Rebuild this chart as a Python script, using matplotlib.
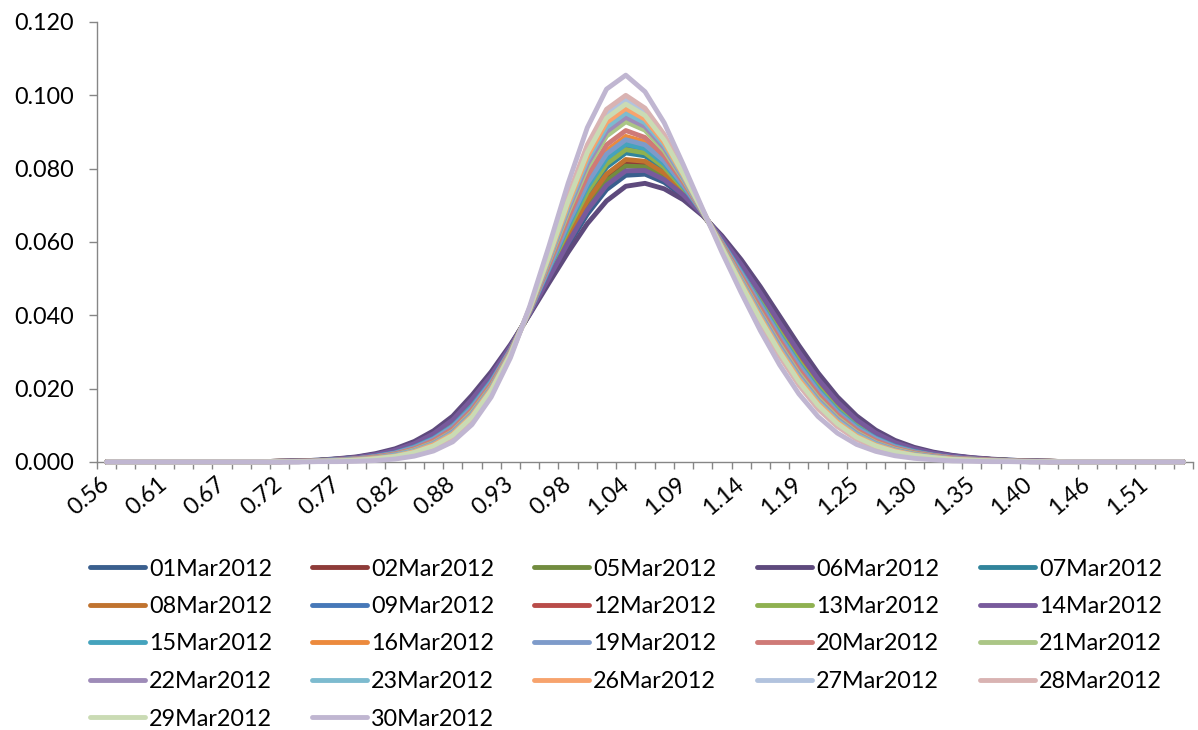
import matplotlib
matplotlib.use("Agg")
import matplotlib.pyplot as plt
from matplotlib.lines import Line2D
from matplotlib.ticker import FixedLocator, FixedFormatter, NullFormatter

plt.rcParams['font.family'] = ['Lato', 'DejaVu Sans']

# Moneyness grid (category axis)
moneyness = [0.5600, 0.5776, 0.5952, 0.6128, 0.6304, 0.6480, 0.6656, 0.6832, 0.7008, 0.7184,
             0.7360, 0.7536, 0.7712, 0.7888, 0.8064, 0.8240, 0.8416, 0.8592, 0.8768, 0.8944,
             0.9120, 0.9296, 0.9472, 0.9648, 0.9824, 1.0000, 1.0176, 1.0352, 1.0528, 1.0704,
             1.0880, 1.1056, 1.1232, 1.1408, 1.1584, 1.1760, 1.1936, 1.2112, 1.2288, 1.2464,
             1.2640, 1.2816, 1.2992, 1.3168, 1.3344, 1.3520, 1.3696, 1.3872, 1.4048, 1.4224,
             1.4400, 1.4576, 1.4752, 1.4928, 1.5104, 1.5280, 1.5456]

dates = ["01Mar2012", "02Mar2012", "05Mar2012", "06Mar2012", "07Mar2012",
         "08Mar2012", "09Mar2012", "12Mar2012", "13Mar2012", "14Mar2012",
         "15Mar2012", "16Mar2012", "19Mar2012", "20Mar2012", "21Mar2012",
         "22Mar2012", "23Mar2012", "26Mar2012", "27Mar2012", "28Mar2012",
         "29Mar2012", "30Mar2012"]

# Implied densities, one list per observation date
d_01mar = [0, 0, 0, 0, 0, 0, 0,
           0.0001, 0.0001, 0.0002, 0.0003, 0.0005, 0.0008, 0.0013, 0.0021, 0.0033, 0.0052,
           0.0080, 0.0118, 0.0174, 0.0239, 0.0316, 0.0404, 0.0498, 0.0591, 0.0676, 0.0743,
           0.0782, 0.0785, 0.0763, 0.0724, 0.0674, 0.0613, 0.0543, 0.0466, 0.0385, 0.0305,
           0.0231, 0.0168, 0.0118, 0.0081, 0.0055, 0.0037, 0.0025, 0.0017, 0.0011, 0.0007,
           0.0005, 0.0003, 0.0002, 0.0001, 0.0001, 0, 0, 0, 0, 0]
d_02mar = [0, 0, 0, 0, 0, 0, 0,
           0.0001, 0.0001, 0.0002, 0.0002, 0.0004, 0.0007, 0.0011, 0.0019, 0.0030, 0.0048,
           0.0073, 0.0110, 0.0165, 0.0232, 0.0312, 0.0407, 0.0509, 0.0611, 0.0705, 0.0776,
           0.0816, 0.0813, 0.0783, 0.0735, 0.0676, 0.0608, 0.0533, 0.0453, 0.0370, 0.0290,
           0.0218, 0.0157, 0.0110, 0.0075, 0.0050, 0.0034, 0.0023, 0.0015, 0.0010, 0.0007,
           0.0004, 0.0002, 0.0002, 0.0001, 0.0001, 0, 0, 0, 0, 0]
d_05mar = [0, 0, 0, 0, 0, 0, 0,
           0.0001, 0.0001, 0.0002, 0.0002, 0.0004, 0.0008, 0.0012, 0.0020, 0.0031, 0.0049,
           0.0075, 0.0112, 0.0168, 0.0234, 0.0314, 0.0406, 0.0506, 0.0606, 0.0697, 0.0767,
           0.0807, 0.0805, 0.0777, 0.0732, 0.0675, 0.0609, 0.0536, 0.0456, 0.0374, 0.0294,
           0.0222, 0.0160, 0.0112, 0.0077, 0.0051, 0.0035, 0.0023, 0.0015, 0.0010, 0.0007,
           0.0004, 0.0002, 0.0002, 0.0001, 0.0001, 0, 0, 0, 0, 0]
d_06mar = [0, 0, 0, 0, 0, 0, 0,
           0.0001, 0.0001, 0.0002, 0.0003, 0.0005, 0.0009, 0.0014, 0.0023, 0.0036, 0.0056,
           0.0085, 0.0125, 0.0182, 0.0246, 0.0320, 0.0402, 0.0488, 0.0572, 0.0650, 0.0712,
           0.0752, 0.0760, 0.0745, 0.0715, 0.0672, 0.0617, 0.0552, 0.0478, 0.0398, 0.0318,
           0.0243, 0.0178, 0.0126, 0.0087, 0.0059, 0.0040, 0.0027, 0.0018, 0.0012, 0.0008,
           0.0005, 0.0003, 0.0002, 0.0001, 0.0001, 0, 0, 0, 0, 0]
d_07mar = [0, 0, 0, 0, 0, 0, 0,
           0.0001, 0.0001, 0.0001, 0.0002, 0.0004, 0.0007, 0.0010, 0.0017, 0.0028, 0.0044,
           0.0069, 0.0104, 0.0158, 0.0225, 0.0309, 0.0409, 0.0518, 0.0628, 0.0729, 0.0804,
           0.0843, 0.0835, 0.0799, 0.0744, 0.0677, 0.0604, 0.0525, 0.0442, 0.0358, 0.0278,
           0.0207, 0.0148, 0.0103, 0.0070, 0.0046, 0.0031, 0.0021, 0.0014, 0.0009, 0.0006,
           0.0004, 0.0002, 0.0001, 0.0001, 0.0001, 0, 0, 0, 0, 0]
d_08mar = [0, 0, 0, 0, 0, 0, 0,
           0.0001, 0.0001, 0.0002, 0.0002, 0.0004, 0.0007, 0.0011, 0.0018, 0.0029, 0.0046,
           0.0072, 0.0108, 0.0163, 0.0229, 0.0311, 0.0407, 0.0512, 0.0617, 0.0713, 0.0785,
           0.0825, 0.0820, 0.0788, 0.0738, 0.0676, 0.0606, 0.0530, 0.0449, 0.0366, 0.0286,
           0.0214, 0.0154, 0.0107, 0.0073, 0.0049, 0.0033, 0.0022, 0.0014, 0.0010, 0.0006,
           0.0004, 0.0002, 0.0002, 0.0001, 0.0001, 0, 0, 0, 0, 0]
d_09mar = [0, 0, 0, 0, 0, 0, 0,
           0.0001, 0.0001, 0.0001, 0.0002, 0.0004, 0.0006, 0.0010, 0.0016, 0.0026, 0.0042,
           0.0065, 0.0100, 0.0153, 0.0221, 0.0307, 0.0410, 0.0524, 0.0640, 0.0744, 0.0822,
           0.0861, 0.0850, 0.0810, 0.0749, 0.0679, 0.0601, 0.0520, 0.0435, 0.0350, 0.0271,
           0.0200, 0.0142, 0.0098, 0.0066, 0.0044, 0.0029, 0.0019, 0.0013, 0.0008, 0.0005,
           0.0004, 0.0002, 0.0001, 0.0001, 0.0001, 0, 0, 0, 0, 0]
d_12mar = [0, 0, 0, 0, 0, 0, 0,
           0.0001, 0.0001, 0.0001, 0.0002, 0.0003, 0.0006, 0.0009, 0.0015, 0.0025, 0.0040,
           0.0063, 0.0097, 0.0150, 0.0218, 0.0306, 0.0411, 0.0528, 0.0647, 0.0755, 0.0834,
           0.0873, 0.0860, 0.0817, 0.0753, 0.0679, 0.0599, 0.0516, 0.0430, 0.0345, 0.0265,
           0.0195, 0.0138, 0.0095, 0.0064, 0.0042, 0.0028, 0.0019, 0.0012, 0.0008, 0.0005,
           0.0003, 0.0002, 0.0001, 0.0001, 0.0001, 0, 0, 0, 0, 0]
d_13mar = [0, 0, 0, 0, 0, 0, 0,
           0.0001, 0.0001, 0.0001, 0.0002, 0.0004, 0.0006, 0.0010, 0.0017, 0.0027, 0.0043,
           0.0067, 0.0102, 0.0156, 0.0223, 0.0308, 0.0409, 0.0521, 0.0634, 0.0736, 0.0813,
           0.0852, 0.0843, 0.0804, 0.0746, 0.0678, 0.0602, 0.0522, 0.0438, 0.0354, 0.0274,
           0.0204, 0.0145, 0.0100, 0.0068, 0.0045, 0.0030, 0.0020, 0.0013, 0.0009, 0.0006,
           0.0004, 0.0002, 0.0001, 0.0001, 0.0001, 0, 0, 0, 0, 0]
d_14mar = [0, 0, 0, 0, 0, 0, 0,
           0.0001, 0.0001, 0.0002, 0.0003, 0.0004, 0.0008, 0.0012, 0.0020, 0.0032, 0.0050,
           0.0077, 0.0115, 0.0171, 0.0236, 0.0315, 0.0405, 0.0502, 0.0598, 0.0687, 0.0755,
           0.0794, 0.0795, 0.0770, 0.0728, 0.0675, 0.0611, 0.0539, 0.0461, 0.0379, 0.0300,
           0.0226, 0.0164, 0.0115, 0.0079, 0.0053, 0.0036, 0.0024, 0.0016, 0.0011, 0.0007,
           0.0004, 0.0003, 0.0002, 0.0001, 0.0001, 0, 0, 0, 0, 0]
d_15mar = [0, 0, 0, 0, 0, 0, 0,
           0.0001, 0.0001, 0.0001, 0.0002, 0.0003, 0.0006, 0.0009, 0.0016, 0.0025, 0.0041,
           0.0064, 0.0098, 0.0152, 0.0220, 0.0306, 0.0410, 0.0526, 0.0643, 0.0750, 0.0828,
           0.0867, 0.0855, 0.0813, 0.0751, 0.0679, 0.0600, 0.0518, 0.0432, 0.0347, 0.0268,
           0.0198, 0.0140, 0.0096, 0.0065, 0.0043, 0.0029, 0.0019, 0.0012, 0.0008, 0.0005,
           0.0003, 0.0002, 0.0001, 0.0001, 0.0001, 0, 0, 0, 0, 0]
d_16mar = [0, 0, 0, 0, 0, 0, 0,
           0.0001, 0.0001, 0.0001, 0.0002, 0.0003, 0.0005, 0.0009, 0.0014, 0.0023, 0.0038,
           0.0060, 0.0094, 0.0146, 0.0215, 0.0304, 0.0412, 0.0533, 0.0657, 0.0768, 0.0849,
           0.0888, 0.0873, 0.0826, 0.0758, 0.0680, 0.0597, 0.0512, 0.0424, 0.0338, 0.0259,
           0.0189, 0.0133, 0.0091, 0.0061, 0.0040, 0.0027, 0.0018, 0.0011, 0.0008, 0.0005,
           0.0003, 0.0002, 0.0001, 0.0001, 0.0001, 0, 0, 0, 0, 0]
d_19mar = [0, 0, 0, 0, 0, 0, 0,
           0.0001, 0.0001, 0.0001, 0.0002, 0.0003, 0.0006, 0.0009, 0.0015, 0.0024, 0.0039,
           0.0062, 0.0096, 0.0148, 0.0217, 0.0305, 0.0411, 0.0530, 0.0651, 0.0760, 0.0840,
           0.0879, 0.0865, 0.0821, 0.0755, 0.0680, 0.0598, 0.0514, 0.0428, 0.0342, 0.0263,
           0.0193, 0.0136, 0.0093, 0.0063, 0.0041, 0.0027, 0.0018, 0.0012, 0.0008, 0.0005,
           0.0003, 0.0002, 0.0001, 0.0001, 0.0001, 0, 0, 0, 0, 0]
d_20mar = [0, 0, 0, 0, 0, 0, 0,
           0.0001, 0.0001, 0.0001, 0.0002, 0.0003, 0.0005, 0.0008, 0.0014, 0.0022, 0.0036,
           0.0058, 0.0090, 0.0142, 0.0212, 0.0302, 0.0413, 0.0538, 0.0666, 0.0781, 0.0865,
           0.0904, 0.0885, 0.0835, 0.0763, 0.0681, 0.0595, 0.0507, 0.0418, 0.0332, 0.0252,
           0.0184, 0.0129, 0.0087, 0.0058, 0.0038, 0.0025, 0.0017, 0.0011, 0.0007, 0.0005,
           0.0003, 0.0002, 0.0001, 0.0001, 0.0001, 0, 0, 0, 0, 0]
d_21mar = [0, 0, 0, 0, 0, 0, 0,
           0, 0, 0.0001, 0.0001, 0.0003, 0.0004, 0.0007, 0.0012, 0.0020, 0.0033,
           0.0053, 0.0084, 0.0136, 0.0206, 0.0299, 0.0415, 0.0546, 0.0681, 0.0802, 0.0889,
           0.0928, 0.0905, 0.0849, 0.0770, 0.0682, 0.0591, 0.0500, 0.0408, 0.0321, 0.0241,
           0.0174, 0.0121, 0.0081, 0.0053, 0.0035, 0.0023, 0.0015, 0.0009, 0.0006, 0.0004,
           0.0003, 0.0001, 0.0001, 0.0001, 0, 0, 0, 0, 0, 0]
d_22mar = [0, 0, 0, 0, 0, 0, 0,
           0, 0, 0.0001, 0.0001, 0.0003, 0.0004, 0.0007, 0.0011, 0.0019, 0.0031,
           0.0051, 0.0082, 0.0132, 0.0203, 0.0298, 0.0416, 0.0550, 0.0689, 0.0812, 0.0901,
           0.0940, 0.0915, 0.0857, 0.0774, 0.0683, 0.0589, 0.0496, 0.0404, 0.0316, 0.0236,
           0.0169, 0.0117, 0.0078, 0.0051, 0.0033, 0.0021, 0.0014, 0.0009, 0.0006, 0.0004,
           0.0003, 0.0001, 0.0001, 0.0001, 0, 0, 0, 0, 0, 0]
d_23mar = [0, 0, 0, 0, 0, 0, 0,
           0, 0, 0.0001, 0.0001, 0.0002, 0.0004, 0.0006, 0.0010, 0.0018, 0.0030,
           0.0049, 0.0079, 0.0129, 0.0200, 0.0296, 0.0417, 0.0554, 0.0696, 0.0823, 0.0913,
           0.0952, 0.0925, 0.0864, 0.0778, 0.0684, 0.0587, 0.0493, 0.0399, 0.0310, 0.0231,
           0.0165, 0.0113, 0.0075, 0.0049, 0.0031, 0.0020, 0.0013, 0.0008, 0.0005, 0.0003,
           0.0002, 0.0001, 0.0001, 0, 0, 0, 0, 0, 0, 0]
d_26mar = [0, 0, 0, 0, 0, 0, 0,
           0, 0, 0.0001, 0.0001, 0.0002, 0.0003, 0.0006, 0.0010, 0.0016, 0.0028,
           0.0047, 0.0076, 0.0126, 0.0198, 0.0295, 0.0417, 0.0558, 0.0704, 0.0833, 0.0926,
           0.0964, 0.0935, 0.0871, 0.0782, 0.0685, 0.0586, 0.0489, 0.0394, 0.0305, 0.0226,
           0.0160, 0.0109, 0.0071, 0.0046, 0.0030, 0.0019, 0.0012, 0.0008, 0.0005, 0.0003,
           0.0002, 0.0001, 0.0001, 0, 0, 0, 0, 0, 0, 0]
d_27mar = [0, 0, 0, 0, 0, 0, 0,
           0, 0, 0, 0.0001, 0.0002, 0.0003, 0.0005, 0.0008, 0.0014, 0.0025,
           0.0042, 0.0070, 0.0120, 0.0192, 0.0292, 0.0419, 0.0566, 0.0719, 0.0854, 0.0950,
           0.0988, 0.0955, 0.0885, 0.0789, 0.0686, 0.0582, 0.0482, 0.0384, 0.0294, 0.0215,
           0.0150, 0.0101, 0.0065, 0.0042, 0.0026, 0.0017, 0.0011, 0.0006, 0.0004, 0.0003,
           0.0002, 0.0001, 0, 0, 0, 0, 0, 0, 0, 0]
d_28mar = [0, 0, 0, 0, 0, 0, 0,
           0, 0, 0, 0.0001, 0.0002, 0.0002, 0.0004, 0.0007, 0.0013, 0.0023,
           0.0040, 0.0068, 0.0116, 0.0189, 0.0290, 0.0420, 0.0570, 0.0726, 0.0865, 0.0962,
           0.1000, 0.0965, 0.0893, 0.0793, 0.0687, 0.0580, 0.0478, 0.0380, 0.0289, 0.0210,
           0.0145, 0.0097, 0.0062, 0.0039, 0.0025, 0.0015, 0.0010, 0.0006, 0.0004, 0.0002,
           0.0002, 0.0001, 0, 0, 0, 0, 0, 0, 0, 0]
d_29mar = [0, 0, 0, 0, 0, 0, 0,
           0, 0, 0.0001, 0.0001, 0.0002, 0.0003, 0.0005, 0.0009, 0.0015, 0.0026,
           0.0044, 0.0073, 0.0123, 0.0195, 0.0293, 0.0418, 0.0562, 0.0711, 0.0844, 0.0938,
           0.0976, 0.0945, 0.0878, 0.0785, 0.0685, 0.0584, 0.0485, 0.0389, 0.0300, 0.0220,
           0.0155, 0.0105, 0.0068, 0.0044, 0.0028, 0.0018, 0.0012, 0.0007, 0.0005, 0.0003,
           0.0002, 0.0001, 0.0001, 0, 0, 0, 0, 0, 0, 0]
d_30mar = [0, 0, 0, 0, 0, 0, 0,
           0, 0, 0, 0, 0.0001, 0.0001, 0.0002, 0.0004, 0.0008, 0.0016,
           0.0030, 0.0055, 0.0102, 0.0177, 0.0284, 0.0424, 0.0588, 0.0760, 0.0912, 0.1017,
           0.1055, 0.1010, 0.0925, 0.0810, 0.0690, 0.0572, 0.0462, 0.0358, 0.0265, 0.0186,
           0.0124, 0.0079, 0.0048, 0.0029, 0.0017, 0.0010, 0.0006, 0.0003, 0.0002, 0.0001,
           0.0001, 0, 0, 0, 0, 0, 0, 0, 0, 0]

series = [d_01mar, d_02mar, d_05mar, d_06mar, d_07mar, d_08mar, d_09mar, d_12mar,
          d_13mar, d_14mar, d_15mar, d_16mar, d_19mar, d_20mar, d_21mar, d_22mar,
          d_23mar, d_26mar, d_27mar, d_28mar, d_29mar, d_30mar]

line_colors = ["#3A5F8E", "#8E3B39", "#728C3F", "#5E4A7D", "#31849B",
               "#C0732F", "#4678B8", "#B94C49", "#8FB150", "#785A9C",
               "#45A3BD", "#EC8A3D", "#7E9BCA", "#CF7A77", "#ABC686",
               "#9E8BB8", "#7DBBCF", "#F7A36D", "#B2C3DE", "#D9B3B2",
               "#CADBB4", "#C0B6D1"]

y_ticks = [0.0, 0.02, 0.04, 0.06, 0.08, 0.10, 0.12]

AXIS_GREY = "#868686"
FS = 16.8

W, H = 1198, 730
fig = plt.figure(figsize=(W / 100, H / 100), dpi=100)
ax = fig.add_axes([97 / W, 1 - 462 / H, 1096 / W, 440 / H])

pos = list(range(len(moneyness)))
for vals, col, lab in zip(series, line_colors, dates):
    ax.plot(pos, vals, color=col, lw=3.5, solid_capstyle="round",
            solid_joinstyle="round", label=lab, clip_on=False, zorder=3)

ax.set_xlim(-0.5, len(moneyness) - 0.5)
ax.set_ylim(0, 0.12)

for side in ("top", "right"):
    ax.spines[side].set_visible(False)
for side in ("left", "bottom"):
    ax.spines[side].set_color(AXIS_GREY)
    ax.spines[side].set_linewidth(1.0)

ax.set_yticks(y_ticks)
ax.set_yticklabels([f"{v:.3f}" for v in y_ticks])
ax.tick_params(axis="y", direction="out", length=5.5, width=1.0, color=AXIS_GREY,
               pad=11, labelsize=FS, labelcolor="black")

# tick marks between categories, labels on every third category
ax.xaxis.set_major_locator(FixedLocator([p - 0.5 for p in pos] + [pos[-1] + 0.5]))
ax.xaxis.set_major_formatter(NullFormatter())
label_pos = pos[::3]
ax.xaxis.set_minor_locator(FixedLocator(label_pos))
ax.xaxis.set_minor_formatter(FixedFormatter([f"{moneyness[p]:.2f}" for p in label_pos]))
ax.tick_params(axis="x", which="major", direction="out", length=5, width=1.0, color=AXIS_GREY)
ax.tick_params(axis="x", which="minor", length=0, pad=14, labelsize=FS, labelcolor="black")
for t in ax.xaxis.get_minorticklabels():
    t.set_rotation(40)
    t.set_ha("right")
    t.set_va("center")
    t.set_rotation_mode("anchor")

# legend laid out row by row, five entries per row
col_x = [90, 312, 534, 757, 980]
row_y = [567, 604.5, 642, 679.5, 717]
handle_len = 55
for k, (lab, col) in enumerate(zip(dates, line_colors)):
    r, c = divmod(k, 5)
    x0 = col_x[c]
    y0 = H - row_y[r]
    fig.add_artist(Line2D([x0 / W, (x0 + handle_len) / W], [y0 / H, y0 / H],
                          transform=fig.transFigure, color=col, lw=3.5,
                          solid_capstyle="round"))
    fig.text((x0 + handle_len + 4) / W, y0 / H, lab, fontsize=FS,
             va="center_baseline", ha="left", color="black")

fig.savefig("out.png", dpi=100)
